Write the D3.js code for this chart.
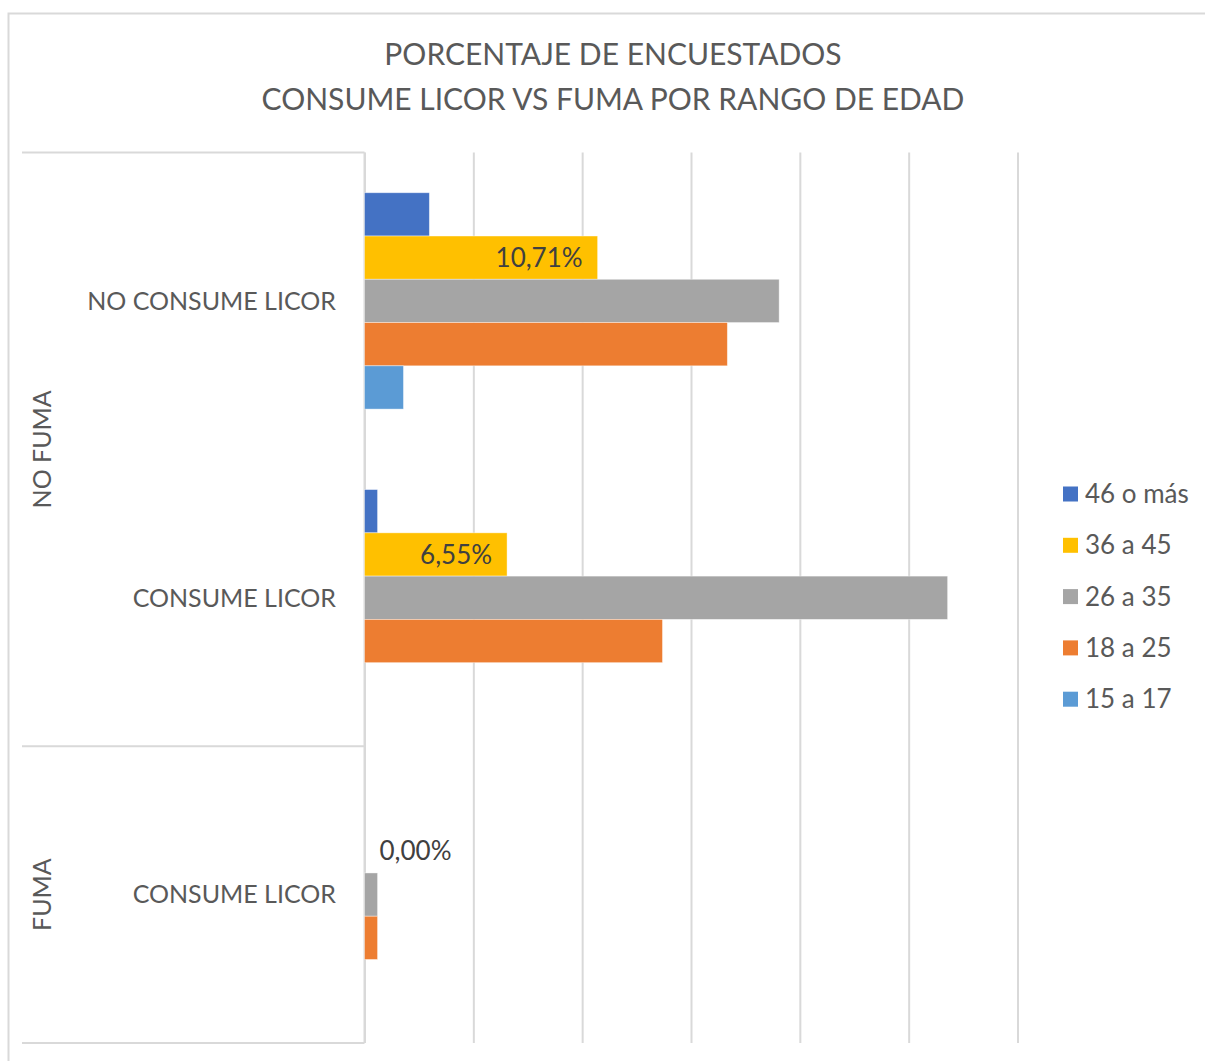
<!DOCTYPE html>
<html>
<head>
<meta charset="utf-8">
<script src="https://cdn.jsdelivr.net/npm/d3@7"></script>
<style>
  body { margin: 0; background: #fff; }
  text { font-family: Lato, "Open Sans", sans-serif; fill: #595959; }
</style>
</head>
<body>
<div id="chart"></div>
<script>
// Chart size
const width = 1205;
const height = 1061;

// Data (percent of respondents, N = 168)
const rowIds = ["nf-ncl", "nf-cl", "f-cl"];
const rowLabels = ["NO CONSUME LICOR", "CONSUME LICOR", "CONSUME LICOR"];
const groupLabels = ["NO FUMA", "FUMA"];
const groupRows = [["nf-ncl", "nf-cl"], ["f-cl"]];
const seriesNames = ["46 o más", "36 a 45", "26 a 35", "18 a 25", "15 a 17"];
const seriesColors = ["#4472C4", "#FFC000", "#A5A5A5", "#ED7D31", "#5B9BD5"];
const val46 = [2.98, 0.60, null];
const val36 = [10.71, 6.55, 0.00];
const val26 = [19.05, 26.79, 0.60];
const val18 = [16.67, 13.69, 0.60];
const val15 = [1.79, null, null];
const xTicks = [0, 5, 10, 15, 20, 25, 30];

const seriesValues = [val46, val36, val26, val18, val15];

let svg = d3.select("#chart").append("svg")
    .attr("width", width)
    .attr("height", height);

// outer chart border (only left and top visible)
svg.append("path")
    .attr("d", "M8.5,1061 V13.5 H1205")
    .attr("fill", "none")
    .attr("stroke", "#D9D9D9")
    .attr("stroke-width", 2);

// Title
svg.append("text")
    .attr("x", 613).attr("y", 65)
    .attr("text-anchor", "middle")
    .style("font-size", "30px")
    .text("PORCENTAJE DE ENCUESTADOS");
svg.append("text")
    .attr("x", 613).attr("y", 110)
    .attr("text-anchor", "middle")
    .style("font-size", "30px")
    .text("CONSUME LICOR VS FUMA POR RANGO DE EDAD");

const plotTop = 152.5, plotBottom = 1043;
const x = d3.scaleLinear().domain([0, 30]).range([364.5, 1017.5]);
const y = d3.scaleBand().domain(rowIds).range([plotTop, plotBottom]).padding(0);
const yInner = d3.scaleBand().domain(seriesNames)
    .range([0, y.bandwidth()]).paddingInner(0).paddingOuter(0.93);

// gridlines
svg.append("g")
    .attr("transform", "translate(0," + plotTop + ")")
    .call(d3.axisBottom(x).tickValues(xTicks).tickSize(plotBottom - plotTop).tickFormat(""))
    .call(g => g.select(".domain").remove())
    .call(g => g.selectAll("line").attr("stroke", "#D9D9D9").attr("stroke-width", 2));

// category axis frame
const lineColor = "#D9D9D9";
const frame = svg.append("g").attr("stroke", lineColor).attr("stroke-width", 2);
frame.append("line").attr("x1", 22).attr("x2", 364.5).attr("y1", plotTop).attr("y2", plotTop);
frame.append("line").attr("x1", 22).attr("x2", 364.5)
    .attr("y1", y("f-cl")).attr("y2", y("f-cl"));
frame.append("line").attr("x1", 22).attr("x2", 364.5).attr("y1", plotBottom).attr("y2", plotBottom);
frame.append("line").attr("x1", 364.5).attr("x2", 364.5).attr("y1", plotTop).attr("y2", plotBottom);

// bars
const barData = [];
seriesNames.forEach((s, si) => {
    rowIds.forEach((r, ri) => {
        const v = seriesValues[si][ri];
        if (v !== null) barData.push({series: s, si: si, row: r, value: v});
    });
});

svg.append("g").selectAll("rect")
    .data(barData.filter(d => d.value > 0))
    .join("rect")
    .attr("x", x(0))
    .attr("y", d => y(d.row) + yInner(d.series))
    .attr("width", d => x(d.value) - x(0))
    .attr("height", yInner.bandwidth())
    .attr("fill", d => seriesColors[d.si])
    .attr("stroke", "#fff")
    .attr("stroke-opacity", 0.5)
    .attr("stroke-width", 0.8);

// data labels for the 36 a 45 series only
const fmt = d => d3.format(".2f")(d).replace(".", ",") + "%";
svg.append("g").selectAll("text")
    .data(barData.filter(d => d.series === "36 a 45"))
    .join("text")
    .attr("x", d => d.value > 0 ? x(d.value) - 15 : x(0) + 15)
    .attr("y", d => y(d.row) + yInner(d.series) + yInner.bandwidth() / 2)
    .attr("dy", "0.35em")
    .attr("text-anchor", d => d.value > 0 ? "end" : "start")
    .style("font-size", "26px")
    .style("fill", "#404040")
    .text(d => fmt(d.value));

// row labels
svg.append("g").selectAll("text")
    .data(rowIds)
    .join("text")
    .attr("x", 336)
    .attr("y", d => y(d) + y.bandwidth() / 2)
    .attr("dy", "0.35em")
    .attr("text-anchor", "end")
    .style("font-size", "25px")
    .text((d, i) => rowLabels[i]);

// group labels (rotated)
svg.append("g").selectAll("text")
    .data(groupLabels)
    .join("text")
    .attr("transform", (d, i) => {
        const rows = groupRows[i];
        const top = y(rows[0]);
        const bottom = y(rows[rows.length - 1]) + y.bandwidth();
        return "translate(42," + ((top + bottom) / 2) + ") rotate(-90)";
    })
    .attr("dy", "0.35em")
    .attr("text-anchor", "middle")
    .style("font-size", "25px")
    .text(d => d);

// legend
const legend = svg.append("g").selectAll("g")
    .data(seriesNames)
    .join("g")
    .attr("transform", (d, i) => "translate(1063," + (494 + i * 51.3) + ")");
legend.append("rect")
    .attr("x", 0).attr("y", -7.5)
    .attr("width", 15).attr("height", 15)
    .attr("fill", (d, i) => seriesColors[i]);
legend.append("text")
    .attr("x", 22).attr("dy", "0.35em")
    .style("font-size", "26px")
    .text(d => d);
</script>
</body>
</html>
